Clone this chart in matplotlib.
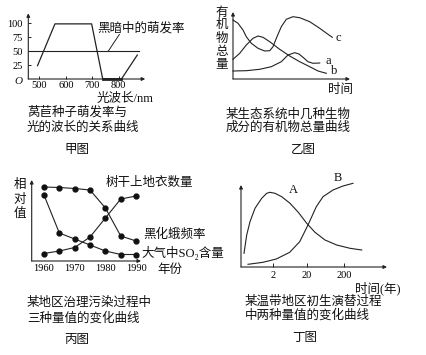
import matplotlib
matplotlib.use("Agg")
import matplotlib.pyplot as plt

plt.rcParams['font.family'] = ['Liberation Serif', 'DejaVu Serif', 'Noto Sans CJK SC']

W, H = 426, 355
LC = '#222222'
CJK = ['Liberation Serif', 'DejaVu Serif', 'Noto Sans CJK SC']

# ---------------- data ----------------
# 甲: wavelength (nm) vs germination rate (%)
jia_wave = [493, 559, 698, 740, 811, 871]
jia_rate = [24, 99, 99, 0, 0, 43]
jia_dark_wave = [462, 876]
jia_dark_rate = [50, 50]
jia_xticks = [500, 600, 700, 800]
jia_yticks = [25, 50, 75, 100]

# 乙: time vs organic matter amount (relative)
yi_c_t = [0, 5, 10, 13.3, 18.3, 25, 31.7, 36.7, 40, 44, 48.3, 53.3, 60, 66.7, 76.7, 86.7, 95, 99.3]
yi_c_v = [59, 55.7, 49, 42.3, 35.7, 30.7, 28, 28.3, 32.3, 42.3, 52.3, 59.7, 62.3, 61.3, 57.3, 50.7, 44.7, 41.7]
yi_a_t = [0, 13.3, 26.7, 38.3, 48.3, 55, 61.7, 66, 70, 75, 80, 86.7]
yi_a_v = [8, 8.3, 9.7, 12.3, 17.3, 24, 26.3, 25, 21.7, 17.3, 15.7, 16]
yi_b_t = [0, 6.7, 13.3, 20, 25, 30, 36.7, 46.7, 56.7, 66.7, 76.7, 85, 93.3]
yi_b_v = [19.7, 25.7, 34, 40.7, 43, 41.7, 37.3, 29.7, 23, 17.3, 12.3, 8, 5.7]

# 丙: years vs relative values
bing_years = [1960, 1965, 1970, 1975, 1980, 1985, 1990]
bing_moth = [74, 73.5, 72.5, 71, 53, 25, 20]
bing_so2 = [66, 28, 22, 16, 10, 6.5, 6.5]
bing_lichen = [7.5, 10, 13.5, 24, 43, 62, 65]

# 丁: time position vs values
ding_a_t = [3, 5.7, 9, 14, 20.7, 25.7, 29, 34, 40.7, 49, 57.3, 65.7, 74, 84, 95.7, 109, 120.7]
ding_a_v = [13.7, 32, 45.3, 58.7, 68.7, 73.7, 74.7, 73.7, 70.3, 63.7, 54.7, 43.7, 34.7, 27, 22, 18.7, 17]
ding_b_t = [7, 22, 35.3, 48.7, 58.7, 67, 75.3, 82, 92, 102, 112]
ding_b_v = [2.7, 4.7, 8, 14.7, 25.3, 42, 60.3, 70.3, 77, 81, 83.7]
ding_tick_pos = [32, 66, 103]
ding_tick_lab = ['2', '20', '200']

fig = plt.figure(figsize=(W / 100, H / 100), dpi=100)
fig.patch.set_facecolor('white')


def add_ax(x0, y0, x1, y1):
    # pixel box: x0 left, y0 top, x1 right, y1 bottom
    ax = fig.add_axes([x0 / W, 1 - y1 / H, (x1 - x0) / W, (y1 - y0) / H])
    ax.set_facecolor('none')
    for s in ax.spines.values():
        s.set_visible(False)
    arr = dict(arrowstyle='-|>', lw=0.8, color=LC, mutation_scale=5, shrinkA=0, shrinkB=0)
    ax.annotate('', xy=(1, 0), xytext=(0, 0), xycoords='axes fraction', arrowprops=arr)
    ax.annotate('', xy=(0, 1), xytext=(0, 0), xycoords='axes fraction', arrowprops=arr)
    return ax


def T(x, y, s, size=9, ha='left', va='center', **kw):
    fig.text(x / W, 1 - y / H, s, fontsize=size, ha=ha, va=va, family=CJK, color='#111111', **kw)


# ---------------- 甲 ----------------
ax1 = add_ax(28.3, 13.3, 145.2, 79)
ax1.set_xlim(458, 901)
ax1.set_ylim(0, 118)
ax1.plot(jia_wave, jia_rate, color=LC, lw=0.9, clip_on=False)
ax1.plot(jia_wave[3:5], jia_rate[3:5], color=LC, lw=2.0, clip_on=False)
ax1.plot(jia_dark_wave, jia_dark_rate, color=LC, lw=0.8, clip_on=False)
ax1.plot([761, 803], [50, 80], color=LC, lw=0.7)
ax1.set_xticks(jia_xticks)
ax1.set_yticks(jia_yticks)
ax1.tick_params(direction='in', length=2.5, width=0.7, color=LC, labelsize=7.5)
ax1.tick_params(axis='x', pad=1.5)
ax1.tick_params(axis='y', pad=4)
T(18.5, 81, 'O', size=8, style='italic', ha='center')
T(97, 28, '黑暗中的萌发率')
T(97, 99, '光波长/nm')
T(27, 112, '莴苣种子萌发率与')
T(27, 128, '光的波长的关系曲线')
T(77, 150, '甲图', ha='center')

# ---------------- 乙 ----------------
ax2 = add_ax(233, 12, 350, 79)
ax2.set_xlim(0, 117)
ax2.set_ylim(0, 67)
ax2.plot(yi_c_t, yi_c_v, color=LC, lw=0.8, clip_on=False)
ax2.plot(yi_a_t, yi_a_v, color=LC, lw=0.8, clip_on=False)
ax2.plot(yi_b_t, yi_b_v, color=LC, lw=0.8, clip_on=False)
ax2.set_xticks([])
ax2.set_yticks([])
T(336, 38, 'c')
T(325, 61, 'a')
T(331, 71, 'b')
for ch, yy in zip('有机物总量', [13, 25, 39, 52, 65]):
    T(222, yy, ch, ha='center')
T(328, 90, '时间')
T(226, 115, '某生态系统中几种生物')
T(226, 128, '成分的有机物总量曲线')
T(303, 150, '乙图', ha='center')

# ---------------- 丙 ----------------
ax3 = add_ax(31.7, 180, 141, 261)
ax3.set_xlim(1956, 1991.6)
ax3.set_ylim(0, 81)
for ser in (bing_moth, bing_so2, bing_lichen):
    ax3.plot(bing_years, ser, color=LC, lw=0.8, marker='o', ms=3.5,
             mfc='#111111', mec='#111111', clip_on=False)
ax3.set_xticks([1960, 1970, 1980, 1990])
ax3.set_yticks([])
ax3.tick_params(axis='x', direction='in', length=0, labelsize=7.5, pad=2)
for ch, yy in zip('相对值', [185, 200, 214]):
    T(20, yy, ch, ha='center')
T(106, 183, '树干上地衣数量')
T(143, 235, '黑化蛾频率')
T(141, 253, '大气中SO\u2082含量')
T(157, 270, '年份')
T(27, 303, '某地区治理污染过程中')
T(27, 318, '三种量值的变化曲线')
T(77, 340, '丙图', ha='center')

# ---------------- 丁 ----------------
ax4 = add_ax(241, 185, 387, 267)
ax4.set_xlim(0, 146)
ax4.set_ylim(0, 82)
ax4.plot(ding_a_t, ding_a_v, color=LC, lw=0.8, clip_on=False)
ax4.plot(ding_b_t, ding_b_v, color=LC, lw=0.8, clip_on=False)
ax4.set_xticks(ding_tick_pos)
ax4.set_xticklabels(ding_tick_lab)
ax4.set_yticks([])
ax4.tick_params(axis='x', direction='in', length=3, width=0.7, color=LC, labelsize=7.5, pad=3)
T(289, 190, 'A')
T(334, 178, 'B')
T(355, 288, '时间(年)')
T(245, 302, '某温带地区初生演替过程')
T(245, 315, '中两种量值的变化曲线')
T(305, 338, '丁图', ha='center')

fig.savefig('out.png', dpi=100, facecolor='white')
